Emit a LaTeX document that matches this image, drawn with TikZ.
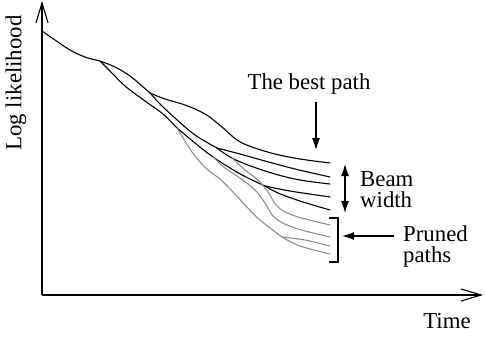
\documentclass[tikz,border=0pt]{standalone}
\usepackage{fontspec}
\setmainfont{Liberation Serif}
\usetikzlibrary{arrows.meta,positioning}
\tikzset{
  path/.style={line width=1.1pt,line cap=round,line join=round},
  pruned/.style={path,black!45},
  axis/.style={line width=1.1pt,-{Straight Barb[length=20pt,width=12pt,line width=1.1pt]}},
  arr/.style={line width=1.1pt,-{Latex[length=12pt,width=8pt]}},
  lbl/.style={align=left,inner sep=0pt}
}
\begin{document}
\begin{tikzpicture}[x=1pt,y=-1pt,font=\fontsize{22.8}{21}\selectfont]
\useasboundingbox (0,0) rectangle (485,341);
% axes
\coordinate (orig) at (42,295);
\coordinate (ytip) at (42,1);
\coordinate (xtip) at (483,295);
\draw[axis] (orig) -- (ytip);
\draw[axis] (orig) -- (xtip);
\node[rotate=90] (ylab) at (16,83) {Log likelihood};
\node (xlab) at (447,321) {Time};
% kept paths
\draw[path] plot[smooth,tension=0.6] coordinates {(42,31) (55,40) (70,50) (85,57) (100,61)};
\draw[path] plot[smooth,tension=0.6] coordinates {(100,61) (115,67) (130,76) (142,86) (150,93)};
\draw[path] plot[smooth,tension=0.6] coordinates {(150,93) (165,99) (185,105) (205,114) (222,127) (237,140) (252,147) (275,154) (300,159) (330,163)};
\draw[path] plot[smooth,tension=0.6] coordinates {(100,61) (110,71) (125,86) (145,101) (163,114) (177,128)};
\draw[path] plot[smooth,tension=0.6] coordinates {(150,93) (160,104) (175,118) (195,135) (217,148)};
\draw[path] plot[smooth,tension=0.6] coordinates {(217,148) (240,154) (265,161) (295,169) (330,177)};
\draw[path] plot[smooth,tension=0.6] coordinates {(217,148) (230,157) (248,165) (275,174) (300,180) (330,184)};
\draw[path] plot[smooth,tension=0.6] coordinates {(177,128) (195,143) (213,157) (235,171) (250,179) (265,186)};
\draw[path] plot[smooth,tension=0.6] coordinates {(265,186) (290,191) (330,197)};
\draw[path] plot[smooth,tension=0.6] coordinates {(265,186) (278,193) (300,201) (330,210)};
% pruned paths
\draw[pruned] plot[smooth,tension=0.6] coordinates {(232,158) (245,170) (258,180) (268,192) (278,207) (295,216) (330,225)};
\draw[pruned] plot[smooth,tension=0.6] coordinates {(213,157) (225,168) (240,178) (255,190) (265,203) (275,218) (295,228) (330,237)};
\draw[pruned] plot[smooth,tension=0.6] coordinates {(177,128) (185,141) (195,156) (208,170) (220,179) (233,192) (245,205) (260,220) (282,237)};
\draw[pruned] plot[smooth,tension=0.6] coordinates {(282,237) (305,240) (330,246)};
\draw[pruned] plot[smooth,tension=0.6] coordinates {(282,237) (300,246) (330,254)};
% labels
\node (bestlbl) at (309,84) {The best path};
\coordinate (besttip) at (316,150);
\draw[arr,shorten <=4pt] (bestlbl.south -| besttip) -- (besttip);
\coordinate (beamtop) at (345,164);
\coordinate (beambot) at (345,213);
\draw[line width=1.1pt,{Latex[length=12pt,width=8pt]}-{Latex[length=12pt,width=8pt]}] (beamtop) -- (beambot);
\node[lbl,anchor=west] (beamlbl) at (360,190) {Beam\\width};
\draw[line width=1.1pt] (329,218) -- (338,218) -- (338,262) -- (329,262);
\coordinate (brkmid) at (342,236);
\node[lbl,anchor=west] (prunedlbl) at (403,247) {Pruned\\paths};
\draw[arr,shorten <=9pt] (prunedlbl.west |- brkmid) -- (brkmid);
\end{tikzpicture}
\end{document}
